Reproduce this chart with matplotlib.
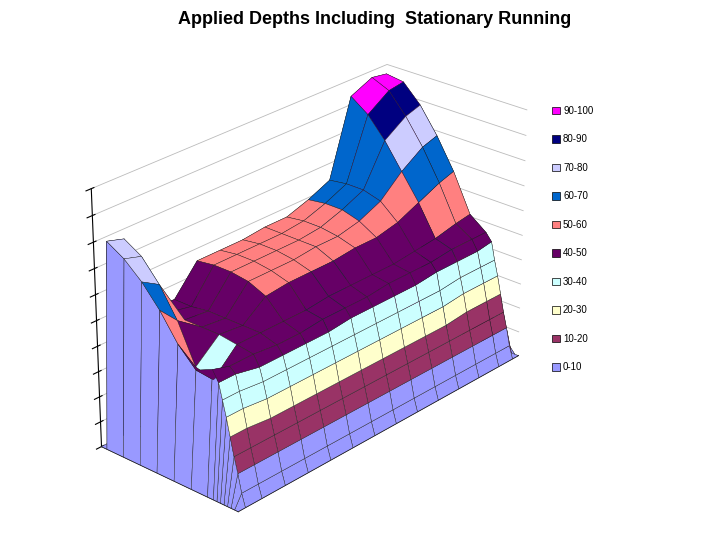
import numpy as np
import matplotlib
matplotlib.use("Agg")
import matplotlib.pyplot as plt
from matplotlib.patches import Patch

plt.rcParams['font.family'] = ['Liberation Sans', 'DejaVu Sans']

# depth bands and colours (Excel palette)
bands = ["0-10", "10-20", "20-30", "30-40", "40-50",
         "50-60", "60-70", "70-80", "80-90", "90-100"]
band_colors = ["#9999FF", "#993366", "#FFFFCC", "#CCFFFF", "#660066",
               "#FF8080", "#0066CC", "#CCCCFF", "#000080", "#FF00FF"]

# sample positions along and across the field
along = [0, 0.3, 1, 2, 3, 4, 5, 6, 7, 8, 9, 10, 11, 12, 12.7, 13]
across = [0, 0.3, 0.6, 0.9, 1.2, 1.5, 1.8, 2.1, 2.6, 4, 5.5, 7, 8.5, 10, 11.5, 12]

# applied depth grid: rows = across (front -> back), columns = along (left -> right)
depth = [
    [0, 0, 0, 0, 0, 0, 0, 0, 0, 0, 0, 0, 0, 0, 0, 0],
    [0, 5, 5, 5, 5, 5, 5, 5, 5, 5, 5, 5, 5, 5, 5, 0],
    [0, 12, 12, 12, 12, 12, 12, 12, 12, 12, 12, 12, 12, 12, 12, 0],
    [0, 18, 18, 18, 18, 18, 18, 18, 18, 18, 18, 18, 18, 18, 18, 0],
    [0, 25, 25, 24, 24, 24, 24, 24, 24, 24, 24, 24, 25, 25, 25, 0],
    [0, 32, 32, 31, 31, 31, 31, 31, 31, 31, 31, 31, 32, 32, 32, 0],
    [0, 38, 38, 37, 37, 37, 37, 37, 37, 37, 37, 37, 38, 38, 38, 0],
    [0, 44, 44, 42, 42, 42, 42, 43, 43, 43, 43, 44, 44, 44, 45, 0],
    [0, 48, 46, 46, 45, 45, 46, 46, 46, 47, 47, 47, 48, 48, 48, 0],
    [0, 45, 38, 47, 47, 47, 47, 48, 48, 48, 48, 49, 50, 52, 53, 0],
    [0, 52, 40, 48, 47, 54, 55, 55, 55, 56, 56, 58, 62, 66, 68, 0],
    [0, 62, 55, 48, 47, 57, 57, 57, 58, 58, 60, 64, 72, 78, 80, 0],
    [0, 70, 66, 48, 47, 58, 58, 58, 58, 59, 62, 66, 82, 88, 90, 0],
    [0, 76, 74, 48, 46, 58, 58, 58, 58, 59, 62, 66, 90, 96, 97, 0],
    [0, 80, 78, 47, 46, 57, 57, 57, 58, 58, 61, 65, 95, 99, 98, 0],
    [0, 0, 0, 0, 0, 0, 0, 0, 0, 0, 0, 0, 0, 0, 0, 0],
]

Z = np.array(depth, dtype=float)
X, Y = np.meshgrid(along, across)

idx = np.clip((Z // 10).astype(int), 0, 9)
fc = np.array([[matplotlib.colors.to_rgba(band_colors[k]) for k in row] for row in idx])

fig = plt.figure(figsize=(7.2, 5.4), dpi=100)
ax = fig.add_axes([0.08, 0.0, 0.7, 0.95], projection="3d")
ax.plot_surface(X, Y, Z, facecolors=fc, edgecolor="#222222", linewidth=0.3,
                rstride=1, cstride=1, shade=False)
ax.view_init(elev=26, azim=-138)
ax.set_zlim(0, 100)
ax.set_xlim(0, 13)
ax.set_ylim(0, 12)
ax.set_xticks([]); ax.set_yticks([]); ax.set_zticks(np.arange(0, 101, 10))
ax.set_zticklabels([])
ax.zaxis.set_tick_params(length=0)
for a in (ax.xaxis, ax.yaxis, ax.zaxis):
    a.set_pane_color((1, 1, 1, 0))
    a._axinfo["grid"]["color"] = "#bbbbbb"
    a._axinfo["grid"]["linewidth"] = 0.6
ax.set_box_aspect((2.3, 1.0, 1.5), zoom=1.05)

fig.text(0.52, 0.955, "Applied Depths Including  Stationary Running",
         ha="center", fontsize=13, fontweight="bold")

handles = [Patch(facecolor=c, edgecolor="black", linewidth=0.5, label=b)
           for b, c in zip(bands, band_colors)]
fig.legend(handles=handles[::-1], loc="upper left", bbox_to_anchor=(0.755, 0.82),
           frameon=False, fontsize=7, handlelength=0.8, handleheight=0.8,
           labelspacing=1.9, handletextpad=0.3)

fig.savefig("out.png", dpi=100)
